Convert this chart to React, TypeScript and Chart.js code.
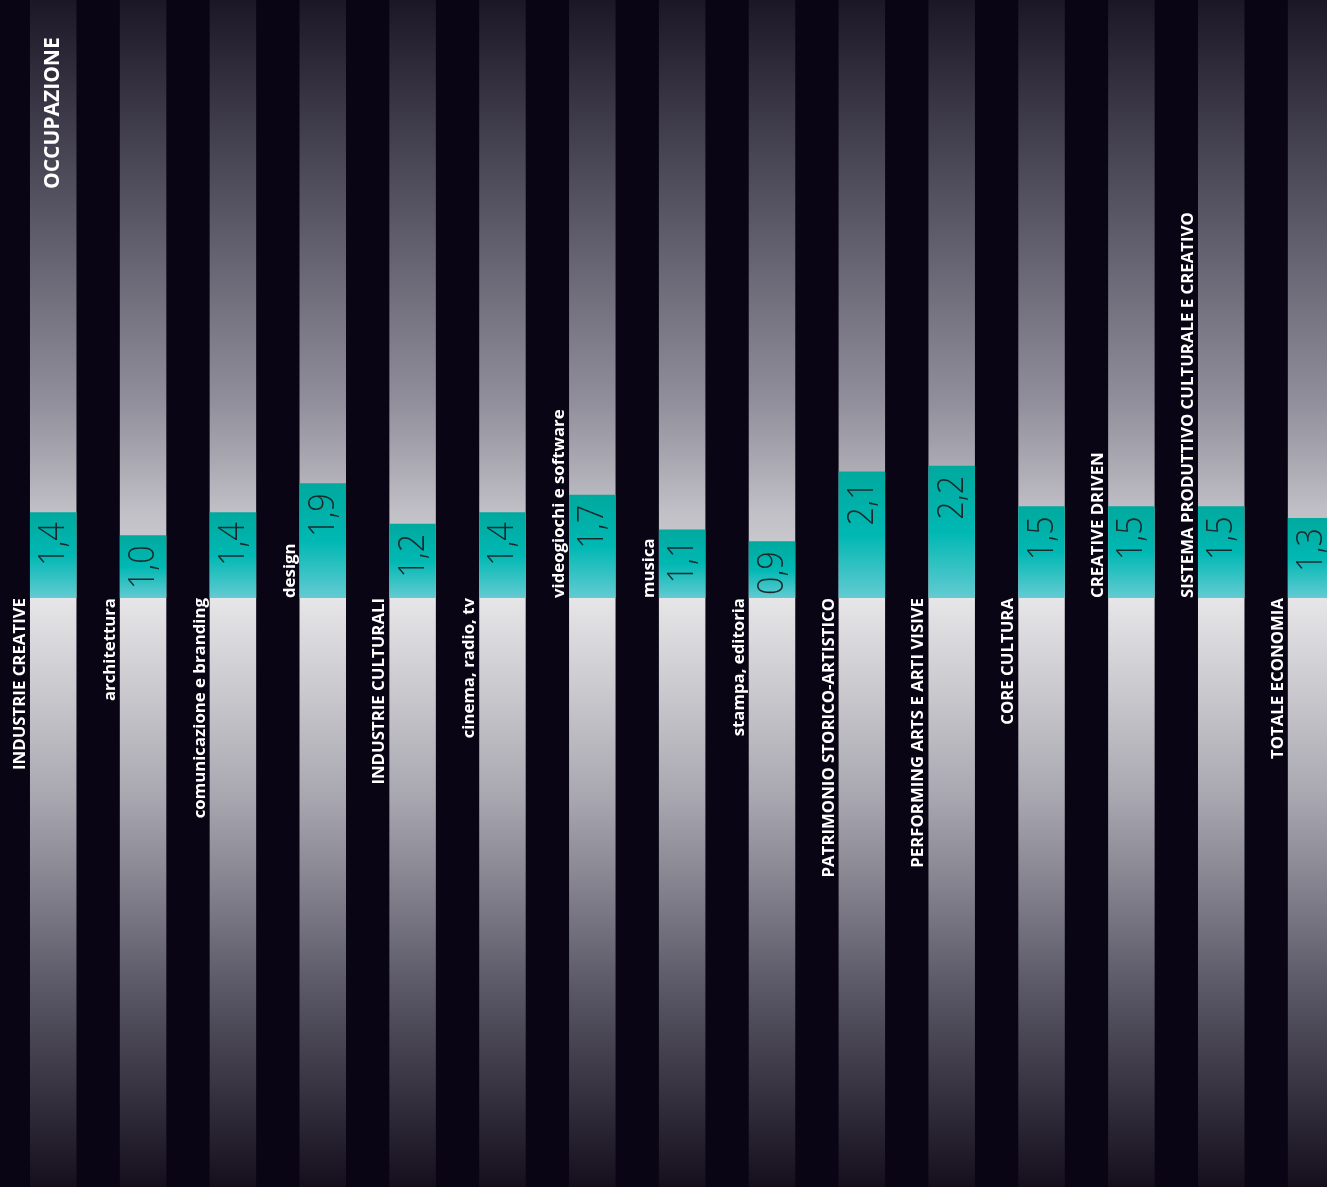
import React, { useEffect, useRef } from 'react';
import { Chart, registerables } from 'chart.js';

Chart.register(...registerables);

const TITLE = 'OCCUPAZIONE';

const CATEGORIES = [
  'INDUSTRIE CREATIVE',
  'architettura',
  'comunicazione e branding',
  'design',
  'INDUSTRIE CULTURALI',
  'cinema, radio, tv',
  'videogiochi e software',
  'musica',
  'stampa, editoria',
  'PATRIMONIO STORICO-ARTISTICO',
  'PERFORMING ARTS E ARTI VISIVE',
  'CORE CULTURA',
  'CREATIVE DRIVEN',
  'SISTEMA PRODUTTIVO CULTURALE E CREATIVO',
  'TOTALE ECONOMIA',
];

const VALUES = [1.4, 1.0, 1.4, 1.9, 1.2, 1.4, 1.7, 1.1, 0.9, 2.1, 2.2, 1.5, 1.5, 1.5, 1.3];

const LABELS_ABOVE = ['design', 'videogiochi e software', 'musica', 'CREATIVE DRIVEN', 'SISTEMA PRODUTTIVO CULTURALE E CREATIVO'];

const Y_MIN = -10.235;
const Y_MAX = 10.23;
const BAR_BASE = -0.08;

const CANVAS_W = 1356;
const CANVAS_H = 1187;
const BG = '#0a0515';

const fmt = (v: number) => v.toFixed(1).replace('.', ',');

export default function App() {
  const ref = useRef<HTMLCanvasElement | null>(null);

  useEffect(() => {
    const canvas = ref.current;
    if (!canvas) return;

    let stripeGrad: CanvasGradient | null = null;

    const stripeColor = (ctx: any) => {
      const chart = ctx.chart;
      const area = chart.chartArea;
      if (!area) return '#888';
      if (!stripeGrad) {
        const y = chart.scales.y;
        const top = y.getPixelForValue(Y_MAX);
        const bot = y.getPixelForValue(Y_MIN);
        const base = y.getPixelForValue(BAR_BASE);
        const g = chart.ctx.createLinearGradient(0, top, 0, bot);
        const h = bot - top;
        const f = (px: number) => Math.min(1, Math.max(0, (px - top) / h));
        g.addColorStop(0, '#1c1727');
        g.addColorStop(f(top + 220), '#5a5866');
        g.addColorStop(f(top + 400), '#908e9a');
        g.addColorStop(f(top + 460), '#a9a8b1');
        g.addColorStop(f(top + 510), '#c0bfc6');
        g.addColorStop(f(base - 0.5), '#d6d6da');
        g.addColorStop(f(base + 0.5), '#e6e6e8');
        g.addColorStop(f(base + 200), '#a8a7b0');
        g.addColorStop(f(base + 380), '#5e5c6a');
        g.addColorStop(1, '#150f1d');
        stripeGrad = g;
      }
      return stripeGrad;
    };

    const barColor = (ctx: any) => {
      const chart = ctx.chart;
      if (!chart.chartArea) return '#00b2a9';
      const y = chart.scales.y;
      const v = VALUES[ctx.dataIndex];
      const top = y.getPixelForValue(v);
      const bot = y.getPixelForValue(BAR_BASE);
      const g = chart.ctx.createLinearGradient(0, top, 0, bot);
      g.addColorStop(0, '#00a99e');
      g.addColorStop(0.5, '#00b8b3');
      g.addColorStop(1, '#63cbd2');
      return g;
    };

    const decor = {
      id: 'decor',
      beforeDraw(chart: any) {
        const c = chart.ctx;
        c.save();
        c.fillStyle = BG;
        c.fillRect(0, 0, chart.width, chart.height);
        c.restore();
      },
      afterDatasetsDraw(chart: any) {
        const c = chart.ctx;
        const bars = chart.getDatasetMeta(1).data;
        const yScale = chart.scales.y;
        const basePx = yScale.getPixelForValue(BAR_BASE);

        // value labels
        bars.forEach((el: any, i: number) => {
          const props = el.getProps(['x', 'y', 'width'], true);
          c.save();
          c.translate(props.x + 11, props.y + 10);
          c.rotate(-Math.PI / 2);
          c.scale(0.9, 1);
          c.font = '300 36px "Open Sans", "Noto Sans", sans-serif';
          c.fillStyle = '#1b2a2c';
          c.textAlign = 'right';
          c.textBaseline = 'alphabetic';
          c.fillText(fmt(VALUES[i]), 0, 0);
          c.restore();
        });

        // category labels
        bars.forEach((el: any, i: number) => {
          const props = el.getProps(['x', 'width'], true);
          const left = props.x - props.width / 2;
          const label = CATEGORIES[i];
          const above = LABELS_ABOVE.includes(label);
          c.save();
          c.translate(left - 5, basePx);
          c.rotate(-Math.PI / 2);
          c.font = 'bold 16.8px "Open Sans", "Noto Sans", sans-serif';
          c.fillStyle = '#ffffff';
          c.textAlign = above ? 'left' : 'right';
          c.textBaseline = 'alphabetic';
          c.fillText(label, 0, 0);
          c.restore();
        });

        // title
        const first = bars[0].getProps(['x'], true);
        c.save();
        c.translate(first.x + 6, 189);
        c.rotate(-Math.PI / 2);
        c.font = 'bold 21px "Open Sans", "Noto Sans", sans-serif';
        c.fillStyle = '#ffffff';
        c.textAlign = 'left';
        c.textBaseline = 'alphabetic';
        c.fillText(TITLE, 0, 0);
        c.restore();
      },
    };

    const chart = new Chart(canvas, {
      type: 'bar',
      data: {
        labels: CATEGORIES,
        datasets: [
          {
            label: 'track',
            data: CATEGORIES.map(() => [Y_MIN, Y_MAX]) as any,
            backgroundColor: stripeColor as any,
            borderWidth: 0,
            grouped: false,
            order: 2,
            barPercentage: 0.5175,
            categoryPercentage: 1,
          },
          {
            label: TITLE,
            data: VALUES,
            base: BAR_BASE,
            backgroundColor: barColor as any,
            borderWidth: 0,
            grouped: false,
            order: 1,
            barPercentage: 0.5175,
            categoryPercentage: 1,
          } as any,
        ],
      },
      options: {
        responsive: false,
        animation: false,
        events: [],
        layout: { padding: { left: 8.3, right: 0, top: 0, bottom: 0 } },
        plugins: {
          legend: { display: false },
          tooltip: { enabled: false },
        },
        scales: {
          x: { display: false },
          y: { display: false, min: Y_MIN, max: Y_MAX },
        },
      },
      plugins: [decor],
    });

    return () => chart.destroy();
  }, []);

  return (
    <div
      style={{
        position: 'fixed',
        left: 0,
        top: 0,
        width: 1327,
        height: 1187,
        overflow: 'hidden',
        background: BG,
      }}
    >
      <canvas ref={ref} width={CANVAS_W} height={CANVAS_H} style={{ display: 'block', width: CANVAS_W, height: CANVAS_H }} />
    </div>
  );
}
